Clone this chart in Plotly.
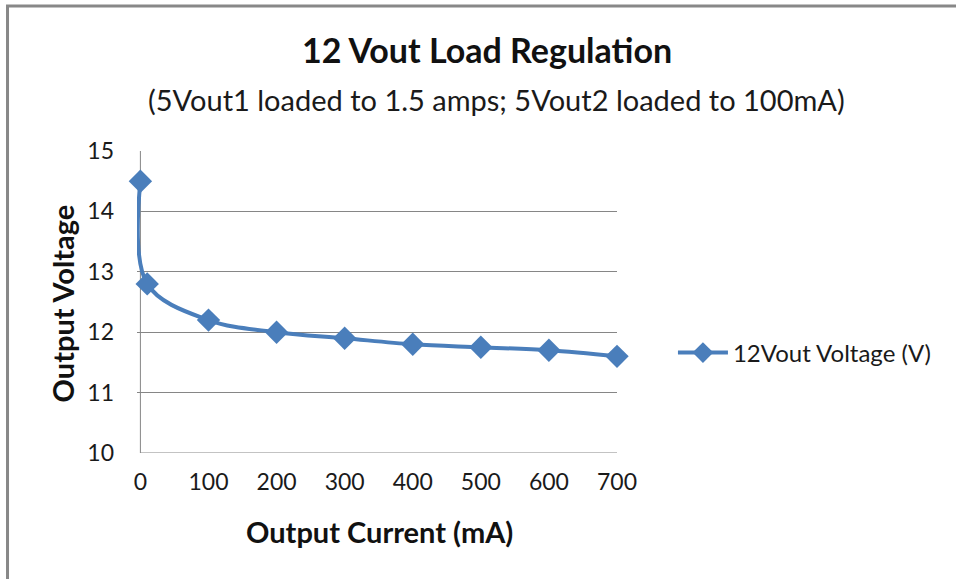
import plotly.graph_objects as go

current_ma = [0, 10, 100, 200, 300, 400, 500, 600, 700]
voltage_v = [14.5, 12.8, 12.2, 12.0, 11.9, 11.8, 11.75, 11.7, 11.6]
series_name = "12Vout Voltage (V)"
x_ticks = [0, 100, 200, 300, 400, 500, 600, 700]
y_ticks = [10, 11, 12, 13, 14, 15]

W, H = 956, 579
X0_PAGE, X700_PAGE = 140, 617      # page px of x=0 and x=700
Y15_PAGE, Y10_PAGE = 151, 453
XMIN = -5
sx = (X700_PAGE - X0_PAGE) / 700.0
L = X0_PAGE + XMIN * sx
R = X700_PAGE
T = Y15_PAGE
B = Y10_PAGE

def px_x(p):
    return (p - L) / (R - L)

def px_y(p):
    return (B - p) / (B - T)

blue = "#4a7ebb"
grid = "#868686"
font = "Lato, Open Sans, sans-serif"
txt = "#1a1a1a"

fig = go.Figure()
fig.add_trace(go.Scatter(
    x=current_ma, y=voltage_v, name=series_name,
    mode="lines+markers",
    line=dict(color=blue, width=4, shape="spline", smoothing=1.0),
    marker=dict(symbol="diamond", size=18, color=blue),
    cliponaxis=False,
))

fig.update_layout(
    width=W, height=H,
    margin=dict(l=L, r=W - R, t=T, b=H - B, pad=0),
    paper_bgcolor="white", plot_bgcolor="white",
    font=dict(family=font, size=23, color=txt),
    showlegend=True,
    legend=dict(x=px_x(673), y=px_y(353), xanchor="left", yanchor="middle",
                font=dict(size=24, color=txt), bgcolor="rgba(0,0,0,0)",
                itemwidth=50),
    xaxis=dict(range=[XMIN, 700], tickvals=x_ticks, showgrid=False,
               showline=False, zeroline=False,
               ticks="", tickfont=dict(size=23, color=txt), ticklabelstandoff=13),
    yaxis=dict(range=[10, 15], tickvals=y_ticks, showgrid=True, gridcolor=grid, gridwidth=1,
               showline=False, zeroline=False,
               ticks="", tickfont=dict(size=23, color=txt), ticklabelstandoff=22),
)

# axis lines at x=0 and y=10
fig.add_shape(type="line", xref="x", yref="y", x0=0, x1=0, y0=10, y1=15,
              line=dict(color=grid, width=1), layer="below")
fig.add_shape(type="line", xref="x", yref="y", x0=0, x1=700, y0=10, y1=10,
              line=dict(color=grid, width=1), layer="below")

fig.add_annotation(text="<b>12 Vout Load Regulation</b>", xref="paper", yref="paper",
                   x=px_x(487), y=px_y(50), showarrow=False, font=dict(size=34, color="#111"),
                   xanchor="center", yanchor="middle")
fig.add_annotation(text="(5Vout1 loaded to 1.5 amps; 5Vout2 loaded to 100mA)", xref="paper", yref="paper",
                   x=px_x(496), y=px_y(99), showarrow=False, font=dict(size=29, color=txt),
                   xanchor="center", yanchor="middle")
fig.add_annotation(text="<b>Output Current (mA)</b>", xref="paper", yref="paper",
                   x=px_x(379), y=px_y(531), showarrow=False, font=dict(size=29, color="#111"),
                   xanchor="center", yanchor="middle")
fig.add_annotation(text="<b>Output Voltage</b>", xref="paper", yref="paper",
                   x=px_x(62), y=px_y(303), showarrow=False, font=dict(size=29, color="#111"),
                   xanchor="center", yanchor="middle", textangle=-90)

fig.add_shape(type="rect", xref="paper", yref="paper",
              x0=px_x(7), x1=px_x(1000), y0=px_y(640), y1=px_y(6),
              line=dict(color="#888888", width=3), fillcolor="rgba(0,0,0,0)", layer="below")

fig.write_html("out.html", config={"displayModeBar": False},
               post_script="document.body.style.margin='0px';document.body.style.overflow='hidden';")
